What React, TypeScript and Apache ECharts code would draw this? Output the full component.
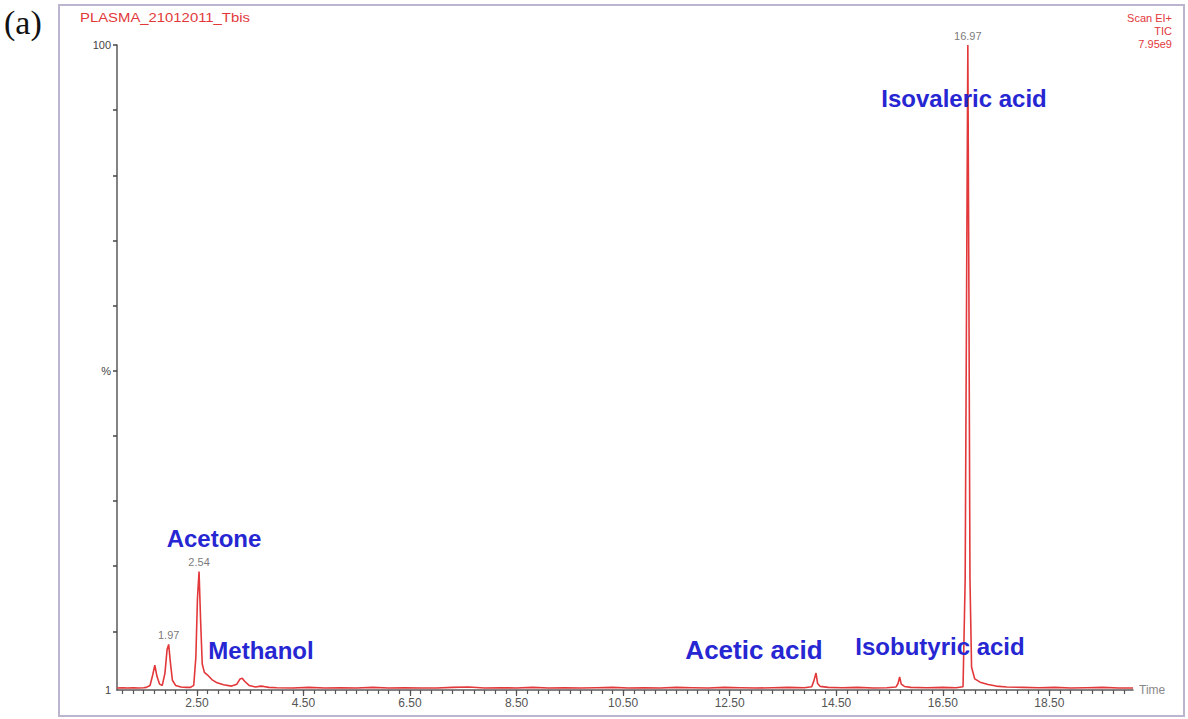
import React, { useEffect, useRef } from "react";
import * as echarts from "echarts";

// Total ion chromatogram (retention time in minutes, relative abundance in %)
const TRACE_TIME = [
  1.0, 1.1, 1.2, 1.3, 1.4, 1.5, 1.55, 1.62, 1.67, 1.71, 1.75, 1.8, 1.85, 1.9, 1.94, 1.97, 2.0, 2.04, 2.1,
  2.2, 2.3, 2.38, 2.44, 2.48, 2.51, 2.54, 2.57, 2.6, 2.64, 2.7, 2.78, 2.88, 3.0, 3.15, 3.25, 3.31, 3.35,
  3.4, 3.48, 3.6, 3.7, 3.75, 3.85, 4.0, 4.3, 4.6, 4.9, 5.2, 5.5, 5.8, 6.1, 6.4, 6.7, 7.0, 7.3, 7.6, 7.9,
  8.2, 8.5, 8.8, 9.1, 9.4, 9.7, 10.0, 10.3, 10.6, 10.9, 11.2, 11.5, 11.8, 12.1, 12.4, 12.7, 13.0, 13.3,
  13.6, 13.9, 14.04, 14.08, 14.12, 14.15, 14.2, 14.35, 14.6, 14.9, 15.2, 15.45, 15.62, 15.66, 15.69,
  15.72, 15.78, 15.9, 16.2, 16.5, 16.75, 16.88, 16.92, 16.95, 16.97, 16.99, 17.01, 17.04, 17.1, 17.2,
  17.35, 17.5, 17.7, 18.0, 18.3, 18.6, 18.9, 19.2, 19.5, 19.8, 20.07,
];
const TRACE_VALUE = [
  1.3, 1.35, 1.3, 1.35, 1.3, 1.35, 1.4, 1.7, 3.3, 4.8, 3.1, 1.9, 1.7, 3.6, 7.2, 8.0, 5.4, 2.5, 1.7,
  1.45, 1.4, 1.4, 1.7, 6.0, 15.0, 19.2, 11.5, 5.0, 3.7, 3.3, 2.6, 2.1, 1.8, 1.6, 1.9, 2.7, 2.8,
  2.3, 1.7, 1.45, 1.6, 1.55, 1.4, 1.35, 1.3, 1.4, 1.3, 1.35, 1.3, 1.4, 1.3, 1.35, 1.3, 1.3, 1.4, 1.45, 1.3,
  1.35, 1.3, 1.4, 1.3, 1.35, 1.3, 1.35, 1.4, 1.3, 1.35, 1.3, 1.4, 1.35, 1.3, 1.4, 1.35, 1.3, 1.35,
  1.4, 1.35, 1.5, 2.4, 3.6, 2.0, 1.55, 1.4, 1.35, 1.4, 1.3, 1.35, 1.45, 2.0, 3.0,
  1.9, 1.55, 1.4, 1.35, 1.4, 1.35, 1.5, 18.0, 68.0, 100.0, 62.0, 18.0, 4.5, 2.7, 2.2,
  1.85, 1.6, 1.45, 1.4, 1.35, 1.4, 1.3, 1.35, 1.4, 1.3, 1.3,
];

// Retention times annotated above their peaks
const PEAK_TIME = [1.97, 2.54, 16.97];
const PEAK_VALUE = [8.0, 19.2, 100.0];

// Compound names shown next to their peaks
const COMPOUNDS = ["Acetone", "Methanol", "Acetic acid", "Isobutyric acid", "Isovaleric acid"];

// Axis ticks and labels
const X_LABELS = [2.5, 4.5, 6.5, 8.5, 10.5, 12.5, 14.5, 16.5, 18.5];
const Y_TICKS = [10, 20, 30, 40, 50, 60, 70, 80, 90, 100];
const Y_LABELS = [1, 50, 100];

const X_MIN = 1.0;
const X_MAX = 20.07;

const minorTicks: number[] = [];
for (let i = 0; i * 0.2 + 1.1 <= 20.0; i++) minorTicks.push(Math.round((1.1 + i * 0.2) * 100) / 100);

const RED = "#e2383a";
const BLUE = "#2626d2";
const SANS = "'Liberation Sans', Arial, sans-serif";

export default function App() {
  const ref = useRef<HTMLDivElement>(null);

  useEffect(() => {
    if (!ref.current) return;
    const chart = echarts.init(ref.current, null, { renderer: "svg" });

    const trace = TRACE_TIME.map((t, i) => [t, TRACE_VALUE[i]]);
    const peaks = PEAK_TIME.map((t, i) => [t, PEAK_VALUE[i]]);

    const labelPos: Record<string, [number, number, number]> = {
      Acetone: [214, 538, 24],
      Methanol: [261, 650, 24],
      "Acetic acid": [754, 650, 26],
      "Isobutyric acid": [940, 646, 24],
      "Isovaleric acid": [964, 98, 24],
    };

    chart.setOption({
      animation: false,
      backgroundColor: "#ffffff",
      grid: { left: 117, right: 55, top: 45, bottom: 29, outerBoundsMode: "none" },
      xAxis: [
        {
          type: "value",
          min: X_MIN,
          max: X_MAX,
          position: "bottom",
          axisLine: { show: true, lineStyle: { color: "#5a5a5a", width: 1.5 } },
          axisTick: { show: true, customValues: X_LABELS, length: 6, lineStyle: { color: "#555", width: 1.2 } },
          axisLabel: {
            customValues: X_LABELS,
            formatter: (v: number) => v.toFixed(2),
            color: "#555",
            fontSize: 12,
            fontFamily: SANS,
            margin: 7,
          },
          splitLine: { show: false },
          name: "Time",
          nameLocation: "end",
          nameGap: 6,
          nameTextStyle: { color: "#888", fontSize: 12, fontFamily: SANS, verticalAlign: "middle" },
        },
        {
          type: "value",
          min: X_MIN,
          max: X_MAX,
          position: "bottom",
          axisLine: { show: false },
          axisTick: { show: true, customValues: minorTicks, length: 4, lineStyle: { color: "#555", width: 1.2 } },
          axisLabel: { show: false },
          splitLine: { show: false },
        },
      ],
      yAxis: {
        type: "value",
        min: 1,
        max: 100,
        axisLine: { show: true, lineStyle: { color: "#5a5a5a", width: 1.5 } },
        axisTick: { show: true, customValues: Y_TICKS, length: 4, lineStyle: { color: "#444", width: 1.5 } },
        axisLabel: {
          customValues: Y_LABELS,
          formatter: (v: number) => (v === 50 ? "%" : String(v)),
          color: "#444",
          fontSize: 11,
          fontFamily: SANS,
          margin: 6,
        },
        splitLine: { show: false },
      },
      series: [
        {
          type: "line",
          data: trace,
          showSymbol: false,
          symbol: "none",
          lineStyle: { color: RED, width: 1.6 },
          z: 3,
        },
        {
          type: "scatter",
          data: peaks,
          symbolSize: 0,
          label: {
            show: true,
            position: "top",
            distance: 4,
            formatter: (p: any) => p.value[0].toFixed(2),
            color: "#555",
            fontSize: 11,
            fontFamily: SANS,
          },
          z: 4,
        },
      ],
      graphic: [
        {
          type: "rect",
          shape: { x: 59, y: 5, width: 1125, height: 711 },
          style: { fill: "none", stroke: "#bdb5cf", lineWidth: 2 },
          silent: true,
        },
        {
          type: "text",
          x: 4,
          y: 22,
          style: {
            text: "(a)",
            fill: "#111",
            font: "34px 'Liberation Serif', 'Times New Roman', serif",
            textAlign: "left",
            textVerticalAlign: "middle",
          },
        },
        {
          type: "text",
          x: 80,
          y: 18,
          scaleX: 1.24,
          style: {
            text: "PLASMA_21012011_Tbis",
            fill: RED,
            font: `12px ${SANS}`,
            textAlign: "left",
            textVerticalAlign: "middle",
          },
        },
        ...["Scan EI+", "TIC", "7.95e9"].map((t, i) => ({
          type: "text",
          x: 1172,
          y: 18 + i * 13,
          style: {
            text: t,
            fill: RED,
            font: `11px ${SANS}`,
            textAlign: "right",
            textVerticalAlign: "middle",
          },
        })),
        ...COMPOUNDS.map((name) => {
          const [x, y, size] = labelPos[name];
          return {
            type: "text",
            x,
            y,
            z: 10,
            style: {
              text: name,
              fill: BLUE,
              font: `bold ${size}px ${SANS}`,
              textAlign: "center",
              textVerticalAlign: "middle",
            },
          };
        }),
      ],
    });

    return () => chart.dispose();
  }, []);

  return (
    <div
      ref={ref}
      style={{ position: "fixed", left: 0, top: 0, width: 1188, height: 719, background: "#fff" }}
    />
  );
}
